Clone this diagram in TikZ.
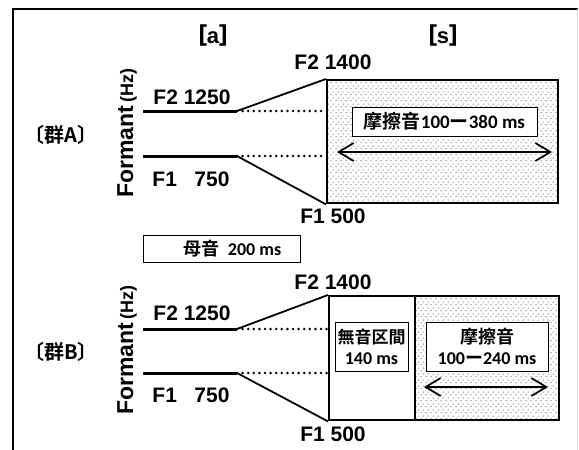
\documentclass[tikz,border=0pt]{standalone}
\usepackage{fontspec}
\setmainfont{Liberation Sans}
\newfontfamily\jpfont{Noto Sans CJK JP Bold}
\newfontfamily\jpheavy{Noto Sans CJK JP Bold}[FakeBold=3]
\newfontfamily\calfont{Carlito}
\usetikzlibrary{
  arrows.meta,   % 双方向矢印
  patterns.meta, % 摩擦音の点描
  positioning    % 節点の相対配置
}
\tikzdeclarepattern{
  name=fric dots, type=uncolored,
  tile size={(5pt,6pt)}, bounding box={(0pt,0pt) and (5pt,6pt)},
  code={
    \fill (1.25pt,1.5pt) circle (0.85pt);
    \fill (3.75pt,4.5pt) circle (0.85pt);
  }
}
\tikzset{
  frame line/.style={line width=2.2pt},
  formant line/.style={line width=3pt},
  slope line/.style={line width=1.8pt},
  gap line/.style={line width=2.8pt, dash pattern=on 0pt off 5.6pt, line cap=round},
  fric area/.style={draw, line width=2.4pt, pattern=fric dots, pattern color=gray,
    anchor=north west, inner sep=0pt},
  silent area/.style={draw, line width=2.4pt, anchor=north west, inner sep=0pt},
  value label/.style={font=\bfseries\fontsize{21}{23}\selectfont, inner sep=0pt},
  group label/.style={font=\jpfont\fontsize{20}{22}\selectfont, inner sep=0pt},
  phone label/.style={font=\fontsize{22}{24}\selectfont, inner sep=0pt},
  axis label/.style={rotate=90, inner sep=0pt, font=\bfseries},
  time box/.style={draw, fill=white, line width=0.9pt, inner sep=0pt, align=center},
  dur arrow/.style={{Straight Barb[length=15pt,width=18pt]}-{Straight Barb[length=15pt,width=18pt]},
    line width=1.7pt}
}

\begin{document}
\begin{tikzpicture}[x=1pt, y=-1pt] % 1 単位 = 1 px，y 軸は下向き
  \useasboundingbox (0,0) rectangle (579,450); % 画像全体の大きさ

  % 外枠（上辺と左辺）
  \coordinate (fTL) at (13,9);
  \coordinate (fTR) at (578,9);
  \coordinate (fBL) at (13,450);
  \draw[frame line] (fTR) -- (fTL) -- (fBL); % 上辺と左辺
  \draw[gray!30, line width=0.8pt] (577.5,9) -- (577.5,450); % 右端の薄い線

  % 音素ラベル
  \node[phone label] (phA) at (213,35) {{\jpheavy ［}{\bfseries a}{\jpheavy ］}};
  \node[phone label] (phS) at (443,35) {{\jpheavy ［}{\bfseries s}{\jpheavy ］}};

  % ===== 群A =====
  \node[group label] (grpA) at (61,135) {〔群A〕};
  \node[axis label] (axA) at (127,133) {\fontsize{23}{25}\selectfont Formant\,\fontsize{18}{20}\selectfont(Hz)};

  \node[fric area, minimum width=231pt, minimum height=123pt] (fricA) at (326,79) {}; % 摩擦音区間

  \coordinate (A2s) at (143,111); % F2 の始点
  \coordinate (A2k) at (237,111); % F2 の折れ点
  \coordinate (A1s) at (143,156); % F1 の始点
  \coordinate (A1k) at (237,156); % F1 の折れ点
  \draw[formant line] (A2s) -- (A2k); % 母音 F2
  \draw[formant line] (A1s) -- (A1k); % 母音 F1
  \draw[gap line] (A2k) -- (fricA.west |- A2k); % F2 の点線
  \draw[gap line] (A1k) -- (fricA.west |- A1k); % F1 の点線
  \draw[slope line] (A2k) -- (fricA.north west); % F2 の遷移
  \draw[slope line] (A1k) -- (fricA.south west); % F1 の遷移

  \node[value label] (A2v) at (192,97) {F2 1250};
  \node[value label] (A1v) at (191,179) {F1\ \ \ 750};
  \node[value label] (A2t) at (333,62) {F2 1400};
  \node[value label] (A1t) at (333,216) {F1 500};

  \node[time box, minimum width=185pt, minimum height=29pt, font=\jpfont\fontsize{19}{21}\selectfont] (fricAbox) at (444.5,121.5)
    {摩擦音{\calfont\bfseries 100}ー{\calfont\bfseries 380 ms}};
  \coordinate (Aarl) at (337,152);
  \coordinate (Aarr) at (552,152);
  \draw[dur arrow] (Aarl) -- (Aarr); % 摩擦音の長さ

  % 母音の長さ
  \node[time box, minimum width=157pt, minimum height=27pt, font=\jpfont\fontsize{18}{20}\selectfont] (vowbox) at (221.5,248.5)
    {\hspace*{22pt}母音\ \ {\calfont\bfseries 200 ms}};

  % ===== 群B =====
  \node[group label] (grpB) at (61,352) {〔群B〕};
  \node[axis label] (axB) at (127,350) {\fontsize{23}{25}\selectfont Formant\,\fontsize{18}{20}\selectfont(Hz)};

  \node[silent area, minimum width=86pt, minimum height=124pt] (silB) at (328,295) {}; % 無音区間
  \node[fric area, minimum width=144pt, minimum height=124pt] (fricB) at (414,295) {}; % 摩擦音区間

  \coordinate (B2s) at (143,329); % F2 の始点
  \coordinate (B2k) at (237,329); % F2 の折れ点
  \coordinate (B1s) at (143,373); % F1 の始点
  \coordinate (B1k) at (237,373); % F1 の折れ点
  \draw[formant line] (B2s) -- (B2k);
  \draw[formant line] (B1s) -- (B1k);
  \draw[gap line] (B2k) -- (silB.west |- B2k);
  \draw[gap line] (B1k) -- (silB.west |- B1k);
  \draw[slope line] (B2k) -- (silB.north west);
  \draw[slope line] (B1k) -- (silB.south west);

  \node[value label] (B2v) at (192,313) {F2 1250};
  \node[value label] (B1v) at (191,395) {F1\ \ \ 750};
  \node[value label] (B2t) at (333,282) {F2 1400};
  \node[value label] (B1t) at (333,434) {F1 500};

  \node[time box, minimum width=73pt, minimum height=49pt, font=\jpfont\fontsize{17}{20}\selectfont] (silbox) at (371.5,346.5)
    {無音区間\\[1pt]{\fontsize{18}{20}\selectfont\calfont\bfseries 140 ms}};
  \node[time box, minimum width=122pt, minimum height=49pt, font=\jpfont\fontsize{18}{20}\selectfont] (fricBbox) at (487,346.5)
    {摩擦音\\[1pt]{\calfont\bfseries 100}ー{\calfont\bfseries 240 ms}};
  \coordinate (Barl) at (424,387);
  \coordinate (Barr) at (548,387);
  \draw[dur arrow] (Barl) -- (Barr); % 摩擦音の長さ
\end{tikzpicture}
\end{document}
